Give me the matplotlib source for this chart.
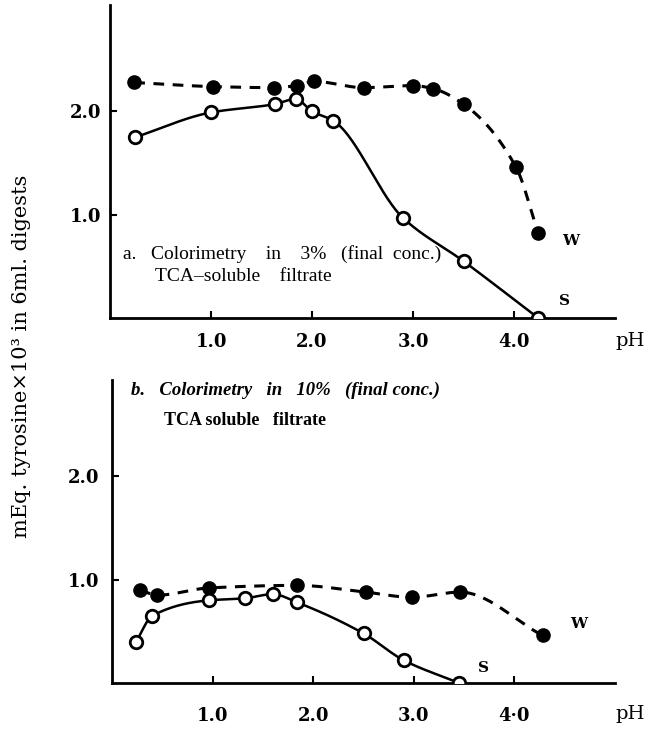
import numpy as np
import matplotlib
matplotlib.use("Agg")
import matplotlib.pyplot as plt

# ---------------- data ----------------
# Panel a: 3% TCA
a_w_ph = [0.24, 1.02, 1.62, 1.85, 2.02, 2.51, 3.00, 3.20, 3.50, 4.02, 4.24]
a_w_val = [2.28, 2.24, 2.23, 2.25, 2.29, 2.23, 2.25, 2.22, 2.07, 1.46, 0.82]
a_s_ph = [0.25, 1.00, 1.63, 1.84, 2.00, 2.21, 2.90, 3.50, 4.24]
a_s_val = [1.75, 1.99, 2.07, 2.12, 2.00, 1.91, 0.97, 0.55, 0.00]

# Panel b: 10% TCA
b_w_ph = [0.28, 0.45, 0.96, 1.84, 2.52, 2.98, 3.46, 4.28]
b_w_val = [0.90, 0.85, 0.92, 0.945, 0.88, 0.83, 0.88, 0.46]
b_s_ph = [0.24, 0.40, 0.96, 1.32, 1.60, 1.84, 2.50, 2.90, 3.45]
b_s_val = [0.40, 0.65, 0.80, 0.82, 0.86, 0.78, 0.48, 0.22, 0.00]

x_ticks = [1.0, 2.0, 3.0, 4.0]
a_x_ticklabels = ["1.0", "2.0", "3.0", "4.0"]
b_x_ticklabels = ["1.0", "2.0", "3.0", "4·0"]
y_ticks = [1.0, 2.0]
y_ticklabels = ["1.0", "2.0"]

a_title = ["a.   Colorimetry    in    3%   (final  conc.)", "TCA–soluble    filtrate"]
b_title = ["b.   Colorimetry   in   10%   (final conc.)", "TCA soluble   filtrate"]
y_label = "mEq. tyrosine×10³ in 6ml. digests"


def pchip(x, y, n=300):
    x = np.asarray(x, float)
    y = np.asarray(y, float)
    h = np.diff(x)
    d = np.diff(y) / h
    m = np.zeros_like(y)
    for k in range(1, len(x) - 1):
        if d[k - 1] * d[k] > 0:
            w1 = 2 * h[k] + h[k - 1]
            w2 = h[k] + 2 * h[k - 1]
            m[k] = (w1 + w2) / (w1 / d[k - 1] + w2 / d[k])
        else:
            m[k] = 0.0
    m[0] = d[0]
    m[-1] = d[-1]
    xs = np.linspace(x[0], x[-1], n)
    idx = np.clip(np.searchsorted(x, xs) - 1, 0, len(x) - 2)
    t = (xs - x[idx]) / h[idx]
    h00 = 2 * t**3 - 3 * t**2 + 1
    h10 = t**3 - 2 * t**2 + t
    h01 = -2 * t**3 + 3 * t**2
    h11 = t**3 - t**2
    ys = h00 * y[idx] + h10 * h[idx] * m[idx] + h01 * y[idx + 1] + h11 * h[idx] * m[idx + 1]
    return xs, ys


W, H = 648, 729
fig = plt.figure(figsize=(W / 100, H / 100), dpi=100)

tick_font = dict(family="DejaVu Serif", weight="bold", size=13)
ann_font = dict(family="Liberation Serif", size=14)


def style_axes(ax, xlabels, ypad, xpad):
    for s in ["top", "right"]:
        ax.spines[s].set_visible(False)
    for s in ["left", "bottom"]:
        ax.spines[s].set_linewidth(2.0)
    ax.set_xlim(0, 5.0)
    ax.set_xticks(x_ticks)
    ax.set_xticklabels(xlabels, fontdict=tick_font)
    ax.set_yticks(y_ticks)
    ax.set_yticklabels(y_ticklabels, fontdict=tick_font)
    ax.tick_params(axis="x", direction="in", length=5, width=1.5, pad=xpad)
    ax.tick_params(axis="y", direction="in", length=5, width=1.5, pad=ypad)


def draw_series(ax, wx, wy, sx, sy):
    xs, ys = pchip(wx, wy)
    ax.plot(xs, ys, color="black", lw=2.2, dashes=(3.5, 2.8), zorder=2)
    xs, ys = pchip(sx, sy)
    ax.plot(xs, ys, color="black", lw=1.8, zorder=2)
    ax.plot(wx, wy, "o", color="black", ms=9.5, zorder=3)
    ax.plot(sx, sy, "o", mfc="white", mec="black", mew=2.0, ms=9, zorder=4)


# ---- panel a ----
ax1 = fig.add_axes([110 / W, 1 - 318 / H, 505 / W, 313 / H])
ax1.set_ylim(0, 313 / 103.3)
style_axes(ax1, a_x_ticklabels, 6, 11)
draw_series(ax1, a_w_ph, a_w_val, a_s_ph, a_s_val)
ax1.text(0.13, 0.57, a_title[0], fontdict=ann_font, ha="left", va="baseline")
ax1.text(0.45, 0.36, a_title[1], fontdict=ann_font, ha="left", va="baseline")
ax1.text(4.48, 0.75, "W", family="DejaVu Serif", weight="bold", size=11, ha="left", va="center")
ax1.text(4.45, 0.16, "S", family="DejaVu Serif", weight="bold", size=11, ha="left", va="center")
fig.text(615 / W, 1 - 341 / H, "pH", family="DejaVu Serif", size=14, ha="left", va="center")

# ---- panel b ----
ax2 = fig.add_axes([112 / W, 1 - 683 / H, 503 / W, 303 / H])
ax2.set_ylim(0, 303 / 103.3)
style_axes(ax2, b_x_ticklabels, 9, 17)
draw_series(ax2, b_w_ph, b_w_val, b_s_ph, b_s_val)
ax2.text(0.19, 2.79, b_title[0], fontdict=dict(ann_font, size=13.5), style="italic",
         weight="bold", ha="left", va="baseline")
ax2.text(0.52, 2.50, b_title[1], fontdict=dict(ann_font, size=13), weight="bold",
         ha="left", va="baseline")
ax2.text(4.55, 0.57, "W", family="DejaVu Serif", weight="bold", size=11, ha="left", va="center")
ax2.text(3.64, 0.15, "S", family="DejaVu Serif", weight="bold", size=11, ha="left", va="center")
fig.text(615 / W, 1 - 714 / H, "pH", family="DejaVu Serif", size=14, ha="left", va="center")

# y label
fig.text(22 / W, 1 - 356 / H, y_label, family="DejaVu Serif", size=15,
         rotation=90, ha="center", va="center")

fig.savefig("out.png", dpi=100)
